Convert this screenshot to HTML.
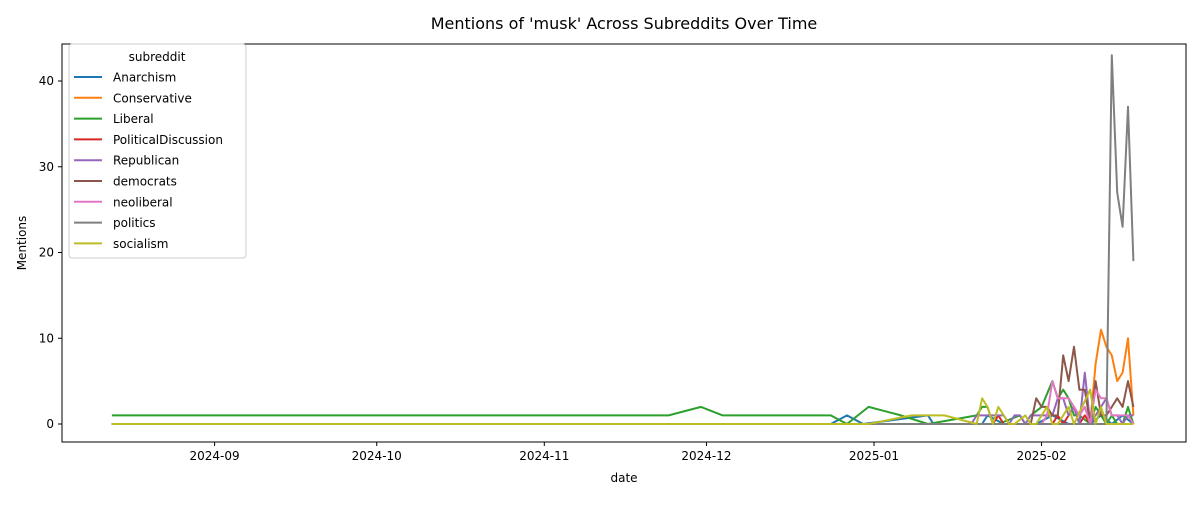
<!DOCTYPE html>
<html><head><meta charset="utf-8"><style>
body{margin:0;background:#fff;font-family:"Liberation Sans","DejaVu Sans",sans-serif}
</style></head><body>
<svg id="c" width="1200" height="500" xmlns="http://www.w3.org/2000/svg" font-family="DejaVu Sans, Liberation Sans, sans-serif"></svg>
<script>
const seriesNames=["Anarchism","Conservative","Liberal","PoliticalDiscussion","Republican","democrats","neoliberal","politics","socialism"];
const colors=["#1f77b4","#ff7f0e","#2ca02c","#d62728","#9467bd","#8c564b","#e377c2","#7f7f7f","#bcbd22"];
// day offsets relative to 2025-01-01
const anarchismDays=[-141,-8,-5,-2,10,11,20,21,24,26,30,33,36,40,42,44,46,48];
const anarchismVals=[0,0,1,0,1,0,0,1,0,0,0,1,0,0,1,0,1,0];
const conservativeDays=[-141,39,40,41,42,43,44,45,46,47,48];
const conservativeVals=[0,0,0,7,11,9,8,5,6,10,1];
const liberalDays=[-141,-38,-32,-28,-8,-5,-1,5,10,19,20,21,22,23,27,28,29,31,33,34,35,36,37,38,40,41,42,43,44,45,46,47,48];
const liberalVals=[1,1,2,1,1,0,2,1,0,1,2,2,0,0,1,0,1,2,5,3,4,3,1,1,0,2,1,0,1,0,0,2,0];
const pdDays=[-141,22,23,24,33,34,35,37,38,39,40,48];
const pdVals=[0,0,1,0,0,1,0,2,0,1,0,0];
const republicanDays=[-141,18,19,24,25,26,27,28,29,30,31,32,33,34,35,36,37,38,39,40,41,43,44,45,46,47,48];
const republicanVals=[0,0,1,1,0,1,1,0,1,1,1,1,1,3,3,1,2,0,6,0,1,3,1,1,0,1,1];
const democratsDays=[-141,29,30,31,32,33,34,35,36,37,38,39,40,41,42,43,44,45,46,47,48];
const democratsVals=[0,0,3,2,2,1,1,8,5,9,4,4,0,5,1,1,2,3,2,5,2];
const neoliberalDays=[-141,31,32,33,34,35,36,37,38,39,40,41,42,43,44,45,46,47,48];
const neoliberalVals=[0,0,1,5,3,3,3,2,1,2,0,4,3,3,1,1,1,1,0];
const politicsDays=[-141,43,44,45,46,47,48];
const politicsVals=[0,0,43,27,23,37,19];
const socialismDays=[-141,-1,7,13,19,20,21,22,23,24,25,26,28,29,30,32,33,34,36,37,40,41,42,43,48];
const socialismVals=[0,0,1,1,0,3,2,0,2,1,0,0,1,0,0,2,0,0,2,0,4,0,2,0,0];
const xTickDays=[-122,-92,-61,-31,0,31];
const xTickLabels=["2024-09","2024-10","2024-11","2024-12","2025-01","2025-02"];
const yTicks=[0,10,20,30,40];

const allDays=[anarchismDays,conservativeDays,liberalDays,pdDays,republicanDays,democratsDays,neoliberalDays,politicsDays,socialismDays];
const allVals=[anarchismVals,conservativeVals,liberalVals,pdVals,republicanVals,democratsVals,neoliberalVals,politicsVals,socialismVals];

const NS="http://www.w3.org/2000/svg";
const svg=document.getElementById('c');
const L=62,R=1186,T=44,B=442;
const X=d=>874+d*5.405;
const Y=v=>424-v*8.575;
function el(t,a,p){const e=document.createElementNS(NS,t);for(const k in a)e.setAttribute(k,a[k]);(p||svg).appendChild(e);return e;}

const title=el('text',{x:624,y:29,'text-anchor':'middle','font-size':16});
title.textContent="Mentions of 'musk' Across Subreddits Over Time";



for(let i=0;i<allDays.length;i++){
  const pts=allDays[i].map((d,j)=>X(d).toFixed(1)+','+Y(allVals[i][j]).toFixed(1)).join(' ');
  const pl=el('polyline',{points:pts,fill:'none',stroke:colors[i],'stroke-width':2,'stroke-linejoin':'round'});
  
  
}

const frame=el('rect',{x:L,y:T,width:R-L,height:B-T,fill:'none',stroke:'#000','stroke-width':1});



xTickDays.forEach((d,i)=>{
  const tk=el('line',{x1:X(d),x2:X(d),y1:B,y2:B+4,stroke:'#000'});
  
  
  const t=el('text',{x:X(d),y:B+18,'text-anchor':'middle','font-size':12});
  t.textContent=xTickLabels[i];
  
  
});
yTicks.forEach(v=>{
  const tk=el('line',{x1:L-4,x2:L,y1:Y(v),y2:Y(v),stroke:'#000'});
  
  
  const t=el('text',{x:L-8,y:Y(v)+4,'text-anchor':'end','font-size':12});
  t.textContent=v;
  
  
});
const xt=el('text',{x:624,y:482,'text-anchor':'middle','font-size':12});
xt.textContent='date';


const yt=el('text',{x:26,y:243,'text-anchor':'middle','font-size':12,transform:'rotate(-90 26 243)'});
yt.textContent='Mentions';



const lg=el('g',{});


el('rect',{x:69,y:44,width:177,height:214,rx:3,fill:'#fff','fill-opacity':0.8,stroke:'#ccc'},lg);
const lt=el('text',{x:157,y:61,'text-anchor':'middle','font-size':12},lg);
lt.textContent='subreddit';
seriesNames.forEach((n,i)=>{
  const y=77+i*20.8;
  const g=el('g',{},lg);
  
  
  el('line',{x1:74,x2:102,y1:y,y2:y,stroke:colors[i],'stroke-width':2},g);
  const t=el('text',{x:113,y:y+4.5,'font-size':12},g);
  t.textContent=n;
});
</script>
</body></html>
